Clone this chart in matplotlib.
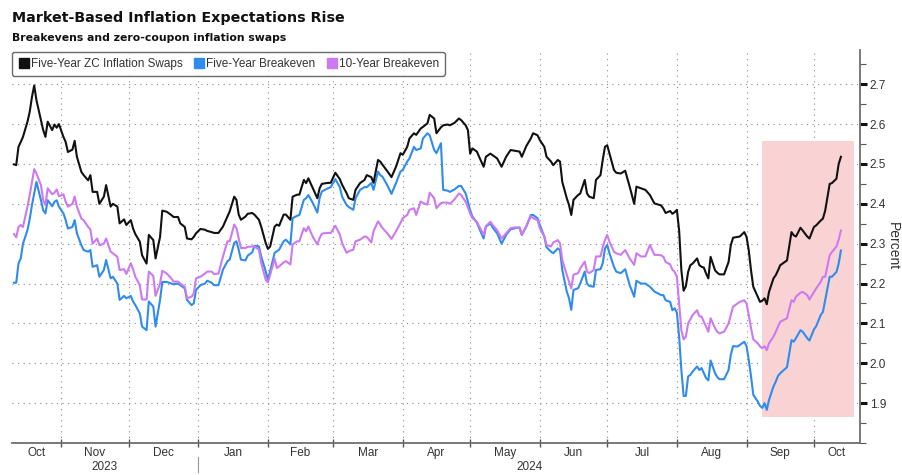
import numpy as np
import pandas as pd
import matplotlib
matplotlib.use('Agg')
import matplotlib.pyplot as plt
import matplotlib.dates as mdates
import matplotlib.transforms as mtransforms
from matplotlib.lines import Line2D
from matplotlib.patches import Rectangle

# ---- data (percent) ----
dates = pd.to_datetime([
    '2023-10-11', '2023-10-12', '2023-10-13', '2023-10-14', '2023-10-15',
    '2023-10-17', '2023-10-18', '2023-10-19', '2023-10-20', '2023-10-21',
    '2023-10-23', '2023-10-24', '2023-10-25', '2023-10-26', '2023-10-28',
    '2023-10-29', '2023-10-30', '2023-10-31', '2023-11-02', '2023-11-03',
    '2023-11-04', '2023-11-06', '2023-11-07', '2023-11-08', '2023-11-10',
    '2023-11-11', '2023-11-13', '2023-11-14', '2023-11-15', '2023-11-17',
    '2023-11-18', '2023-11-20', '2023-11-21', '2023-11-23', '2023-11-24',
    '2023-11-26', '2023-11-27', '2023-11-29', '2023-11-30', '2023-12-02',
    '2023-12-03', '2023-12-04', '2023-12-06', '2023-12-07', '2023-12-09',
    '2023-12-10', '2023-12-12', '2023-12-13', '2023-12-15', '2023-12-16',
    '2023-12-18', '2023-12-20', '2023-12-21', '2023-12-23', '2023-12-24',
    '2023-12-26', '2023-12-27', '2023-12-29', '2023-12-30', '2023-12-31',
    '2024-01-02', '2024-01-04', '2024-01-05', '2024-01-07', '2024-01-08',
    '2024-01-10',
    '2024-01-12', '2024-01-14', '2024-01-15', '2024-01-17', '2024-01-18',
    '2024-01-19', '2024-01-20', '2024-01-22', '2024-01-23', '2024-01-25',
    '2024-01-26', '2024-01-28', '2024-01-29', '2024-01-31', '2024-02-01',
    '2024-02-02', '2024-02-04', '2024-02-05', '2024-02-06', '2024-02-08',
    '2024-02-09', '2024-02-11', '2024-02-12', '2024-02-14', '2024-02-15',
    '2024-02-17', '2024-02-18', '2024-02-19', '2024-02-21', '2024-02-23',
    '2024-02-24', '2024-02-25', '2024-02-27', '2024-02-29', '2024-03-02',
    '2024-03-04', '2024-03-05', '2024-03-07', '2024-03-08', '2024-03-10',
    '2024-03-11', '2024-03-13', '2024-03-15', '2024-03-16', '2024-03-18',
    '2024-03-19', '2024-03-21', '2024-03-22', '2024-03-23', '2024-03-25',
    '2024-03-27', '2024-03-29', '2024-03-31', '2024-04-01', '2024-04-03',
    '2024-04-04', '2024-04-06', '2024-04-07', '2024-04-09', '2024-04-10',
    '2024-04-12', '2024-04-13', '2024-04-15', '2024-04-16', '2024-04-18',
    '2024-04-19', '2024-04-21', '2024-04-22', '2024-04-24', '2024-04-26',
    '2024-04-27', '2024-04-29', '2024-04-30', '2024-05-01', '2024-05-02',
    '2024-05-04', '2024-05-05', '2024-05-07', '2024-05-08', '2024-05-10',
    '2024-05-11', '2024-05-13', '2024-05-15', '2024-05-17', '2024-05-19',
    '2024-05-21', '2024-05-23', '2024-05-24', '2024-05-26', '2024-05-28',
    '2024-05-29', '2024-05-31', '2024-06-01', '2024-06-03', '2024-06-04',
    '2024-06-06', '2024-06-07', '2024-06-09', '2024-06-10', '2024-06-11',
    '2024-06-13', '2024-06-14', '2024-06-15', '2024-06-16', '2024-06-18',
    '2024-06-19', '2024-06-21', '2024-06-22', '2024-06-23', '2024-06-25',
    '2024-06-26', '2024-06-28', '2024-06-29', '2024-06-30', '2024-07-01',
    '2024-07-02', '2024-07-04', '2024-07-05', '2024-07-07', '2024-07-09',
    '2024-07-11', '2024-07-13', '2024-07-14', '2024-07-16', '2024-07-18',
    '2024-07-20', '2024-07-22',
    '2024-07-25', '2024-07-26', '2024-07-27', '2024-07-29', '2024-07-30',
    '2024-07-31', '2024-08-01', '2024-08-02', '2024-08-03', '2024-08-04',
    '2024-08-05', '2024-08-06', '2024-08-07', '2024-08-08', '2024-08-10',
    '2024-08-11', '2024-08-12', '2024-08-13', '2024-08-14', '2024-08-15',
    '2024-08-16', '2024-08-18', '2024-08-19', '2024-08-20', '2024-08-22',
    '2024-08-24', '2024-08-25', '2024-08-26', '2024-08-28', '2024-08-29',
    '2024-08-31', '2024-09-01', '2024-09-02', '2024-09-03', '2024-09-04',
    '2024-09-06', '2024-09-07', '2024-09-08', '2024-09-09', '2024-09-10',
    '2024-09-11', '2024-09-13', '2024-09-14', '2024-09-15', '2024-09-16',
    '2024-09-18', '2024-09-19', '2024-09-21', '2024-09-22', '2024-09-23',
    '2024-09-25', '2024-09-26', '2024-09-28', '2024-09-29', '2024-10-01',
    '2024-10-02', '2024-10-04', '2024-10-05', '2024-10-06', '2024-10-08',
    '2024-10-09', '2024-10-11', '2024-10-12', '2024-10-13',
])

zc_swap_5y = [
    2.499, 2.497, 2.543, 2.555, 2.568, 2.606, 2.631, 2.668, 2.697, 2.66,
    2.61, 2.585, 2.568, 2.606, 2.585, 2.599, 2.591, 2.60, 2.568, 2.555,
    2.53, 2.536, 2.558, 2.518, 2.48, 2.472, 2.459, 2.472, 2.43, 2.43,
    2.40, 2.418, 2.447, 2.393, 2.40, 2.393, 2.351, 2.361, 2.347, 2.359,
    2.338, 2.324, 2.305, 2.271, 2.25, 2.322, 2.309, 2.263, 2.317, 2.383,
    2.38, 2.372, 2.367, 2.367, 2.351, 2.342, 2.313, 2.311, 2.317, 2.326,
    2.337, 2.335, 2.332, 2.329, 2.327, 2.327,
    2.343, 2.368, 2.381, 2.418, 2.41, 2.373, 2.36, 2.368, 2.375, 2.377,
    2.373, 2.36, 2.343, 2.302, 2.287, 2.293, 2.343, 2.348, 2.345, 2.373,
    2.373, 2.36, 2.418, 2.423, 2.423, 2.46, 2.452, 2.464, 2.439, 2.414,
    2.439, 2.45, 2.452, 2.453, 2.478, 2.462, 2.448, 2.427, 2.414, 2.41,
    2.435, 2.452, 2.46, 2.472, 2.467, 2.453, 2.51, 2.506, 2.498, 2.483,
    2.467, 2.493, 2.527, 2.523, 2.543, 2.564, 2.577, 2.573, 2.589, 2.593,
    2.602, 2.623, 2.614, 2.577, 2.592,
    2.597, 2.599, 2.597, 2.603, 2.614, 2.61, 2.597, 2.585, 2.526, 2.539,
    2.531, 2.518, 2.493, 2.518, 2.526, 2.522, 2.514, 2.493, 2.518, 2.535,
    2.533, 2.531, 2.518, 2.545, 2.564, 2.577, 2.572, 2.56, 2.543, 2.518,
    2.506, 2.497, 2.51, 2.506, 2.455, 2.414, 2.397, 2.372, 2.41, 2.422,
    2.426, 2.46, 2.426, 2.418, 2.414, 2.46, 2.472, 2.51, 2.543, 2.547,
    2.526, 2.485, 2.478, 2.476, 2.483, 2.443, 2.40, 2.443, 2.439, 2.435,
    2.422, 2.401,
    2.396, 2.388, 2.377, 2.382, 2.375, 2.379, 2.385, 2.333, 2.233, 2.182,
    2.193, 2.229, 2.246, 2.25, 2.263, 2.246, 2.242, 2.24, 2.225, 2.213,
    2.267, 2.233, 2.227, 2.223, 2.223, 2.254, 2.296, 2.315, 2.317, 2.318,
    2.329, 2.317, 2.283, 2.233, 2.192, 2.167, 2.154, 2.157, 2.163, 2.148,
    2.179, 2.213, 2.221, 2.233, 2.246, 2.254, 2.258, 2.329, 2.321, 2.318,
    2.34, 2.333, 2.318, 2.313, 2.342, 2.346, 2.358, 2.363, 2.383, 2.45,
    2.452, 2.463, 2.50, 2.518,
]

breakeven_5y = [
    2.202, 2.202, 2.25, 2.263, 2.30, 2.334, 2.362, 2.397, 2.426, 2.455,
    2.409, 2.384, 2.376, 2.409, 2.394, 2.405, 2.409, 2.393, 2.376, 2.359,
    2.338, 2.342, 2.359, 2.326, 2.296, 2.284, 2.28, 2.284, 2.242, 2.246,
    2.217, 2.234, 2.259, 2.213, 2.217, 2.20, 2.159, 2.169, 2.163, 2.169,
    2.155, 2.146, 2.125, 2.092, 2.083, 2.155, 2.142, 2.092, 2.159, 2.204,
    2.204, 2.20, 2.198, 2.20, 2.196, 2.188, 2.159, 2.146, 2.15, 2.184,
    2.196, 2.20, 2.207, 2.202, 2.196, 2.196,
    2.235, 2.256, 2.26, 2.302, 2.306, 2.285, 2.26, 2.258, 2.27, 2.278,
    2.295, 2.293, 2.268, 2.231, 2.21, 2.231, 2.277, 2.281, 2.285, 2.306,
    2.31, 2.298, 2.364, 2.37, 2.372, 2.41, 2.414, 2.422, 2.402, 2.378,
    2.414, 2.431, 2.437, 2.442, 2.462, 2.442, 2.418, 2.397, 2.392, 2.385,
    2.414, 2.435, 2.442, 2.442, 2.452, 2.435, 2.481, 2.472, 2.468, 2.448,
    2.425, 2.452, 2.481, 2.485, 2.506, 2.514, 2.543, 2.535, 2.539, 2.564,
    2.577, 2.572, 2.535, 2.527, 2.552,
    2.435, 2.433, 2.43, 2.436, 2.445, 2.445, 2.426, 2.405, 2.384, 2.368,
    2.353, 2.339, 2.313, 2.343, 2.351, 2.341, 2.326, 2.30, 2.322, 2.336,
    2.339, 2.341, 2.322, 2.343, 2.372, 2.372, 2.364, 2.347, 2.318, 2.291,
    2.28, 2.276, 2.288, 2.284, 2.234, 2.18, 2.163, 2.134, 2.184, 2.188,
    2.20, 2.23, 2.20, 2.194, 2.192, 2.234, 2.236, 2.251, 2.288, 2.297,
    2.276, 2.242, 2.23, 2.226, 2.236, 2.196, 2.167, 2.207, 2.20, 2.20,
    2.192, 2.18,
    2.171, 2.171, 2.158, 2.154, 2.133, 2.138, 2.127, 2.067, 1.983, 1.918,
    1.918, 1.967, 1.971, 1.979, 1.992, 1.983, 1.988, 1.975, 1.963, 1.957,
    2.007, 1.975, 1.965, 1.96, 1.96, 1.983, 2.021, 2.043, 2.042, 2.046,
    2.054, 2.043, 2.008, 1.967, 1.921, 1.904, 1.893, 1.888, 1.90, 1.883,
    1.908, 1.942, 1.954, 1.968, 1.975, 1.985, 1.99, 2.058, 2.054, 2.063,
    2.083, 2.079, 2.063, 2.057, 2.085, 2.093, 2.121, 2.129, 2.158, 2.217,
    2.217, 2.229, 2.25, 2.283,
]

breakeven_10y = [
    2.324, 2.316, 2.342, 2.347, 2.342, 2.393, 2.422, 2.455, 2.487, 2.476,
    2.447, 2.409, 2.397, 2.439, 2.424, 2.428, 2.436, 2.419, 2.424, 2.405,
    2.393, 2.40, 2.418, 2.393, 2.363, 2.359, 2.342, 2.336, 2.30, 2.313,
    2.296, 2.30, 2.313, 2.28, 2.276, 2.267, 2.234, 2.236, 2.224, 2.251,
    2.236, 2.217, 2.196, 2.16, 2.16, 2.23, 2.219, 2.169, 2.20, 2.232,
    2.225, 2.213, 2.205, 2.205, 2.20, 2.192, 2.163, 2.167, 2.175, 2.213,
    2.217, 2.225, 2.23, 2.23, 2.224, 2.225,
    2.268, 2.306, 2.306, 2.348, 2.339, 2.314, 2.289, 2.289, 2.292, 2.293,
    2.293, 2.285, 2.252, 2.21, 2.203, 2.222, 2.262, 2.239, 2.243, 2.253,
    2.256, 2.248, 2.298, 2.306, 2.306, 2.339, 2.331, 2.343, 2.317, 2.298,
    2.314, 2.325, 2.327, 2.327, 2.345, 2.323, 2.302, 2.277, 2.281, 2.285,
    2.306, 2.31, 2.318, 2.317, 2.303, 2.331, 2.356, 2.348, 2.339, 2.327,
    2.312, 2.331, 2.352, 2.364, 2.372, 2.385, 2.389, 2.372, 2.406, 2.402,
    2.398, 2.428, 2.414, 2.389, 2.402,
    2.403, 2.403, 2.40, 2.411, 2.426, 2.422, 2.405, 2.391, 2.376, 2.364,
    2.355, 2.344, 2.322, 2.344, 2.355, 2.347, 2.334, 2.313, 2.326, 2.339,
    2.341, 2.339, 2.322, 2.344, 2.369, 2.364, 2.359, 2.339, 2.318, 2.297,
    2.293, 2.303, 2.309, 2.301, 2.259, 2.222, 2.205, 2.188, 2.222, 2.226,
    2.238, 2.255, 2.23, 2.226, 2.234, 2.268, 2.268, 2.291, 2.309, 2.322,
    2.305, 2.28, 2.276, 2.272, 2.284, 2.263, 2.247, 2.276, 2.268, 2.268,
    2.297, 2.272,
    2.271, 2.267, 2.254, 2.248, 2.235, 2.229, 2.217, 2.15, 2.083, 2.06,
    2.067, 2.10, 2.11, 2.121, 2.133, 2.118, 2.117, 2.104, 2.092, 2.079,
    2.113, 2.088, 2.079, 2.075, 2.079, 2.10, 2.121, 2.142, 2.15, 2.154,
    2.158, 2.15, 2.121, 2.088, 2.06, 2.05, 2.042, 2.038, 2.043, 2.033,
    2.05, 2.067, 2.079, 2.092, 2.104, 2.11, 2.113, 2.158, 2.154, 2.167,
    2.177, 2.179, 2.171, 2.16, 2.179, 2.188, 2.204, 2.217, 2.217, 2.271,
    2.279, 2.293, 2.31, 2.333,
]

series_names = ['Five-Year ZC Inflation Swaps', 'Five-Year Breakeven', '10-Year Breakeven']
series_colors = ['#111111', '#2f8ced', '#cc79f2']

shade_dates = ('2024-09-08', '2024-10-19')
shade_range = (1.865, 2.557)

x_lo, x_hi = pd.Timestamp('2023-10-10'), pd.Timestamp('2024-10-21 12:00')
y_lo, y_hi = 1.8, 2.786

plt.rcParams['font.family'] = ['Liberation Sans', 'DejaVu Sans']

fig = plt.figure(figsize=(9.03, 4.75), dpi=100)
ax = fig.add_axes([0.013, 0.0674, 0.9394, 0.8274])

# highlighted window
s0, s1 = mdates.date2num(pd.to_datetime(shade_dates))
ax.add_patch(Rectangle((s0, shade_range[0]), s1 - s0, shade_range[1] - shade_range[0],
                       facecolor='#f9d3d3', edgecolor='none', zorder=1))

ax.plot(dates, breakeven_5y, color=series_colors[1], lw=1.5, zorder=3)
ax.plot(dates, breakeven_10y, color=series_colors[2], lw=1.5, zorder=4)
ax.plot(dates, zc_swap_5y, color=series_colors[0], lw=1.5, zorder=5)

ax.set_xlim(x_lo, x_hi)
ax.set_ylim(y_lo, y_hi)

# y axis on the right
ax.yaxis.tick_right()
ax.yaxis.set_label_position('right')
ax.set_yticks(np.round(np.arange(1.9, 2.75, 0.1), 1))
ax.set_yticks(np.round(np.arange(1.8, 2.79, 0.05), 2), minor=True)
ax.yaxis.set_major_formatter(plt.FormatStrFormatter('%.1f'))
ax.tick_params(axis='y', which='major', length=5, width=2.2, color='#111111',
               labelsize=8.5, labelcolor='#333333', pad=2)
ax.tick_params(axis='y', which='minor', length=4, width=0.8, color='#555555')
ax.set_ylabel('Percent', rotation=270, fontsize=10, color='#333333', va='center', ha='center')
ax.yaxis.set_label_coords(1.039, 0.5)

# x axis: month boundaries as ticks, labels in the middle of each month
month_starts = pd.date_range('2023-11-01', '2024-10-01', freq='MS')
ax.set_xticks(month_starts)
ax.set_xticklabels([])
edges = [x_lo] + list(month_starts) + [x_hi]
mids = [a + (b - a) / 2 for a, b in zip(edges[:-1], edges[1:])]
ax.set_xticks(mids, minor=True)
ax.set_xticklabels([d.strftime('%b') for d in edges[:-1]], minor=True)
ax.tick_params(axis='x', which='major', direction='inout', length=6, width=1, color='#555555')
ax.tick_params(axis='x', which='minor', length=0, labelsize=8.5, labelcolor='#333333', pad=3)

# year labels under the months
trans = mtransforms.blended_transform_factory(ax.transData, ax.transAxes)
jan1 = pd.Timestamp('2024-01-01')
ax.text(x_lo + (jan1 - x_lo) / 2, -0.062, '2023', transform=trans, ha='center', va='center',
        fontsize=8.5, color='#333333')
ax.text(jan1 + (x_hi - jan1) / 2, -0.062, '2024', transform=trans, ha='center', va='center',
        fontsize=8.5, color='#333333')
ax.plot([jan1, jan1], [-0.035, -0.075], transform=trans, color='#999999', lw=0.8, clip_on=False)

# dotted grid
ax.grid(True, which='major', axis='both', linestyle=(0, (1, 4)), color='#8a8a8a', lw=0.8)
ax.set_axisbelow(True)

for side in ['left', 'top']:
    ax.spines[side].set_visible(False)
for side in ['bottom', 'right']:
    ax.spines[side].set_color('#6e6e6e')
    ax.spines[side].set_linewidth(1.3)

# legend
handles = [Line2D([], [], marker='s', ls='none', color=c, markersize=7.5) for c in series_colors]
leg = ax.legend(handles, series_names, loc='upper left', bbox_to_anchor=(0.0, 0.995), ncol=3,
                fontsize=8.5, frameon=True, fancybox=True, handletextpad=0.1, columnspacing=0.9,
                borderpad=0.5, handlelength=1.0, borderaxespad=0.0)
leg.get_frame().set_edgecolor('#444444')
leg.get_frame().set_linewidth(1.0)
for t in leg.get_texts():
    t.set_color('#333333')
leg.set_zorder(10)

fig.text(0.013, 0.962, 'Market-Based Inflation Expectations Rise', fontsize=10.3, fontweight='bold',
         family='DejaVu Sans', va='center', ha='left', color='#111111')
fig.text(0.013, 0.921, 'Breakevens and zero-coupon inflation swaps', fontsize=7.8, fontweight='bold',
         family='DejaVu Sans', va='center', ha='left', color='#111111')

fig.savefig('out.png', dpi=100)
